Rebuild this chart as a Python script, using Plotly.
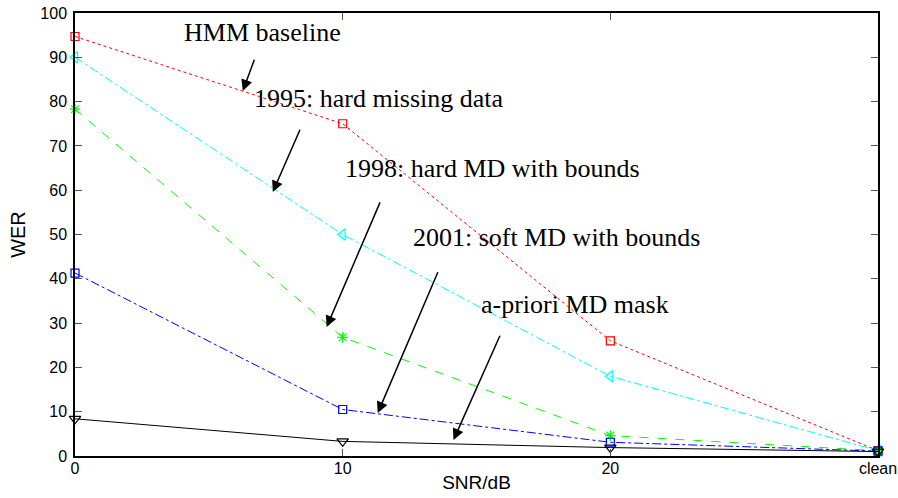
import plotly.graph_objects as go

snr_labels = ["0", "10", "20", "clean"]

hmm_baseline = [94.7, 75.0, 26.0, 1.2]
hard_md_1995 = [90.0, 50.0, 18.0, 1.2]
hard_bounds_1998 = [78.3, 26.8, 4.6, 1.2]
soft_bounds_2001 = [41.3, 10.5, 3.1, 1.1]
apriori_mask = [8.4, 3.3, 1.9, 1.0]

y_ticks = [0, 10, 20, 30, 40, 50, 60, 70, 80, 90, 100]

series = [
    ("HMM baseline", hmm_baseline, "#ff0000", "dot", "square-open", 8),
    ("1995: hard missing data", hard_md_1995, "#00ffff", "dashdot", "triangle-left-open", 10),
    ("1998: hard MD with bounds", hard_bounds_1998, "#00ff00", "dash", "asterisk-open", 9),
    ("2001: soft MD with bounds", soft_bounds_2001, "#0000ff", "dashdot", "square-open", 8),
    ("a-priori MD mask", apriori_mask, "#000000", "solid", "triangle-down-open", 10),
]

fig = go.Figure()
for name, vals, color, dash, sym, msize in series:
    fig.add_trace(go.Scatter(
        x=list(range(len(snr_labels))), y=vals, mode="lines+markers", name=name,
        line=dict(color=color, dash=dash, width=1),
        marker=dict(symbol=sym, size=msize, color=color, line=dict(color=color, width=1.2)),
        showlegend=False, cliponaxis=False,
    ))

# annotation labels (text) and arrows
labels = [
    ("HMM baseline", 0.700, 95.7, 0.627, 82.4, 0.672, 89.8),
    ("1995: hard missing data", 1.135, 80.6, 0.739, 59.6, 0.843, 74.0),
    ("1998: hard MD with bounds", 1.560, 64.8, 0.940, 29.1, 1.142, 57.6),
    ("2001: soft MD with bounds", 1.800, 49.4, 1.131, 9.7, 1.358, 41.8),
    ("a-priori MD mask", 1.868, 34.1, 1.414, 3.6, 1.590, 27.5),
]
for text, tx, ty, hx, hy, ax, ay in labels:
    fig.add_annotation(x=tx, y=ty, xref="x", yref="y", text=text, showarrow=False,
                       font=dict(family="Liberation Serif", size=26, color="black"),
                       xanchor="center", yanchor="middle")
    fig.add_annotation(x=hx, y=hy, xref="x", yref="y", ax=ax, ay=ay, axref="x", ayref="y",
                       text="", showarrow=True, arrowhead=2, arrowsize=1.5, arrowwidth=1.5,
                       arrowcolor="black")

axis_common = dict(
    showline=True, linecolor="black", linewidth=1.5, mirror="ticks",
    ticks="inside", ticklen=7, tickcolor="#555555", tickwidth=1,
    showgrid=False, zeroline=False, automargin=False, ticklabeloverflow="allow",
    tickfont=dict(family="Liberation Sans", size=16, color="black"),
)

fig.update_layout(
    width=898, height=498,
    margin=dict(l=75, r=20, t=13, b=42),
    paper_bgcolor="white", plot_bgcolor="white",
    xaxis=dict(range=[0, 3], tickvals=list(range(len(snr_labels))), ticktext=snr_labels,
               ticklabelstandoff=-3,
               title=dict(text="SNR/dB", font=dict(family="Liberation Sans", size=19, color="black"), standoff=0),
               **axis_common),
    yaxis=dict(range=[0, 100], tickvals=y_ticks, ticklabelstandoff=3,
               title=dict(text="WER", font=dict(family="Liberation Sans", size=20, color="black"), standoff=9),
               **axis_common),
)

# remove the browser's default 8px body margin so the figure fills the window exactly
fig.write_html("out.html", config={"displayModeBar": False},
               post_script="document.body.style.margin='0';document.body.style.overflow='hidden';")
